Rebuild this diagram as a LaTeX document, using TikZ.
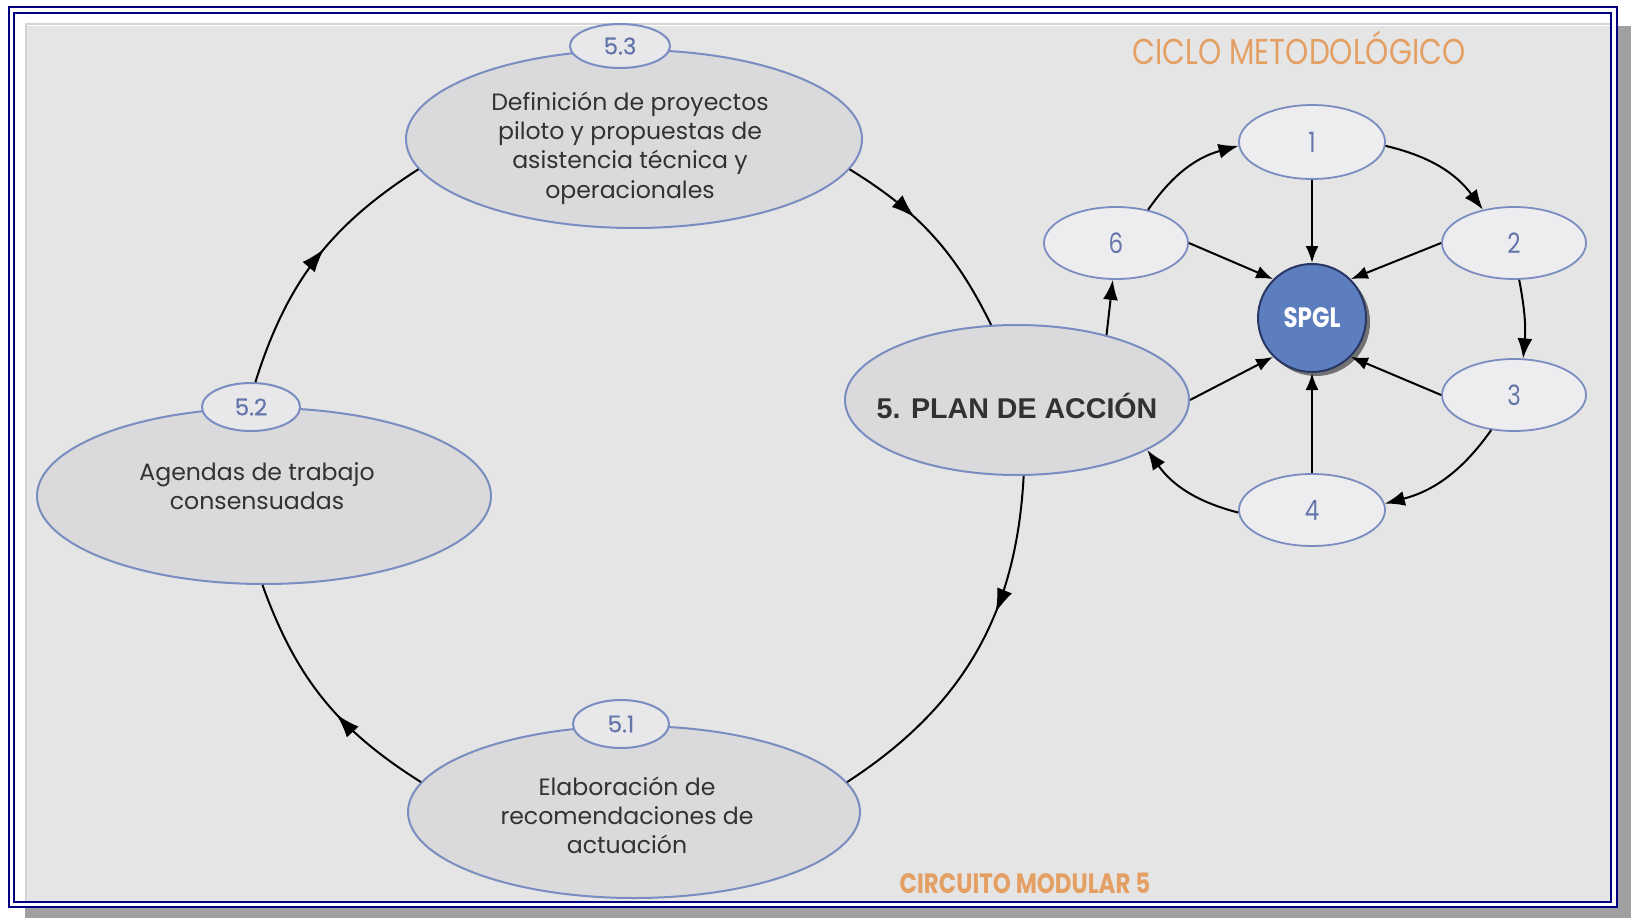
\documentclass[tikz,border=0pt]{standalone}
\usepackage{fontspec}
\setmainfont{Poppins}
\newfontfamily\condfont[FakeStretch=0.82]{Poppins}
\newfontfamily\labfont[FakeBold=0.4]{Poppins}
\newfontfamily\arialfont{Liberation Sans}
\usetikzlibrary{shapes.geometric,arrows.meta,decorations.markings,shadows}
\definecolor{navyc}{RGB}{0,0,128}
\definecolor{shadowgray}{RGB}{160,160,160}
\definecolor{panelc}{RGB}{229,229,229}
\definecolor{panelline}{RGB}{212,212,212}
\definecolor{ellfill}{RGB}{218,218,220}
\definecolor{labfill}{RGB}{232,232,234}
\definecolor{numfill}{RGB}{237,237,239}
\definecolor{ellborder}{RGB}{122,140,192}
\definecolor{labtext}{RGB}{100,117,170}
\definecolor{bodycol}{RGB}{50,50,50}
\definecolor{orangec}{RGB}{228,160,100}
\definecolor{spglfill}{RGB}{92,125,190}
\definecolor{spgldraw}{RGB}{40,55,100}
\begin{document}
\begin{tikzpicture}[x=0.5pt,y=0.5pt,
  bigell/.style={ellipse, draw=ellborder, line width=1pt, fill=ellfill, inner sep=0pt},
  labell/.style={ellipse, draw=ellborder, line width=1pt, fill=labfill, inner sep=0pt, text=labtext, font=\labfont\fontsize{11.5}{13}\selectfont},
  numell/.style={ellipse, draw=ellborder, line width=0.9pt, fill=numfill, inner sep=0pt, text=labtext, font=\condfont\fontsize{14}{16}\selectfont},
  bodytext/.style={align=center, text=bodycol, font=\fontsize{11.8}{14.6}\selectfont, inner sep=0pt},
  cyc/.style={line width=1pt, postaction={decorate}, decoration={markings, mark=at position #1 with {\arrow{Latex[length=12pt,width=8pt]}}}},
  sarr/.style={line width=1pt, -{Latex[length=10pt,width=7.5pt]}},
  rarr/.style={line width=1pt, -{Latex[length=8.5pt,width=6.5pt]}},
]
\useasboundingbox (0,0) rectangle (1633,918);
% frame
\fill[shadowgray] (25,0) rectangle (1631,892);
\draw[navyc, line width=1.25pt, fill=white] (9,11) rectangle (1617,911);
\draw[navyc, line width=1pt] (14,16) rectangle (1611,905);
\fill[panelc] (27,17) rectangle (1610,892);
\draw[panelline, line width=1pt] (25.5,17) -- (25.5,894) -- (1610,894);

% big ellipses
\node[bigell, minimum width=228pt, minimum height=89pt] (e53) at (634,779) {};
\node[bigell, minimum width=227pt, minimum height=88pt] (e52) at (264,422) {};
\node[bigell, minimum width=226pt, minimum height=86pt] (e51) at (634,106) {};
\node[bigell, minimum width=172pt, minimum height=75pt] (plan) at (1017,518) {};

% label ellipses
\node[labell, minimum width=50pt, minimum height=22pt] (s53) at (620,872) {5.3};
\node[labell, minimum width=49pt, minimum height=24pt] (s52) at (251,511) {5.2};
\node[labell, minimum width=48pt, minimum height=24pt] (s51) at (621,194) {5.1};

% texts
\node[bodytext] (t53) at (630,770) {Definición de proyectos\\piloto y propuestas de\\asistencia técnica y\\operacionales};
\node[bodytext] (t52) at (257,432) {Agendas de trabajo\\consensuadas};
\node[bodytext] (t51) at (627,103) {Elaboración de\\recomendaciones de\\actuación};
\node[inner sep=0pt, text=bodycol, font=\arialfont\bfseries\fontsize{14.3}{16}\selectfont] (tplan) at (1017,512) {5. PLAN DE ACCIÓN};
\node[inner sep=0pt, text=orangec, font=\condfont\fontsize{18}{20}\selectfont] (title) at (1299,870) {CICLO METODOLÓGICO};
\node[inner sep=0pt, text=orangec, font=\condfont\bfseries\fontsize{14}{16}\selectfont] (circ) at (1025,35) {CIRCUITO MODULAR 5};

% small cycle
\node[numell, minimum width=73pt, minimum height=37pt] (n1) at (1312,776) {1};
\node[numell, minimum width=72pt, minimum height=36pt] (n2) at (1514,675) {2};
\node[numell, minimum width=72pt, minimum height=36pt] (n3) at (1514,523) {3};
\node[numell, minimum width=73pt, minimum height=36pt] (n4) at (1312,408) {4};
\node[numell, minimum width=72pt, minimum height=36pt] (n6) at (1116,675) {6};
\node[circle, draw=spgldraw, line width=1pt, fill=spglfill, minimum size=54pt, inner sep=0pt, text=white,
      font=\condfont\bfseries\fontsize{14}{16}\selectfont,
      drop shadow={shadow xshift=2pt, shadow yshift=-2pt, opacity=0.5, fill=black}] (spgl) at (1312,600) {SPGL};

% big cycle connectors
\draw[cyc=0.55] (s52.80) to[bend left=20] (e53.188);
\draw[cyc=0.38] (e53.-8) to[bend left=16] (plan.109);
\draw[cyc=0.38] (plan.-85) to[bend left=27] (e51.8);
\draw[cyc=0.42] (e51.172) to[bend left=19] (e52.-91);

% small cycle connectors
\draw[sarr] (n6.46) to[bend left=20] (n1.183);
\draw[sarr] (n1.357) to[bend left=20] (n2.133);
\draw[sarr] (n2.-82) to[bend left=8] (n3.76);
\draw[sarr] (n3.237) to[bend left=20] (n4.5);
\draw[sarr] (n4.182) to[bend left=20] (plan.-21);
\draw[sarr] (plan.36) -- (n6.265);

% radial connectors
\draw[rarr] (n1.south) -- (spgl.north);
\draw[rarr] (n2.west) -- (spgl.45);
\draw[rarr] (n6.east) -- (spgl.135);
\draw[rarr] (n3.west) -- (spgl.-45);
\draw[rarr] (plan.east) -- (spgl.-135);
\draw[rarr] (n4.north) -- (spgl.south);
\end{tikzpicture}
\end{document}
